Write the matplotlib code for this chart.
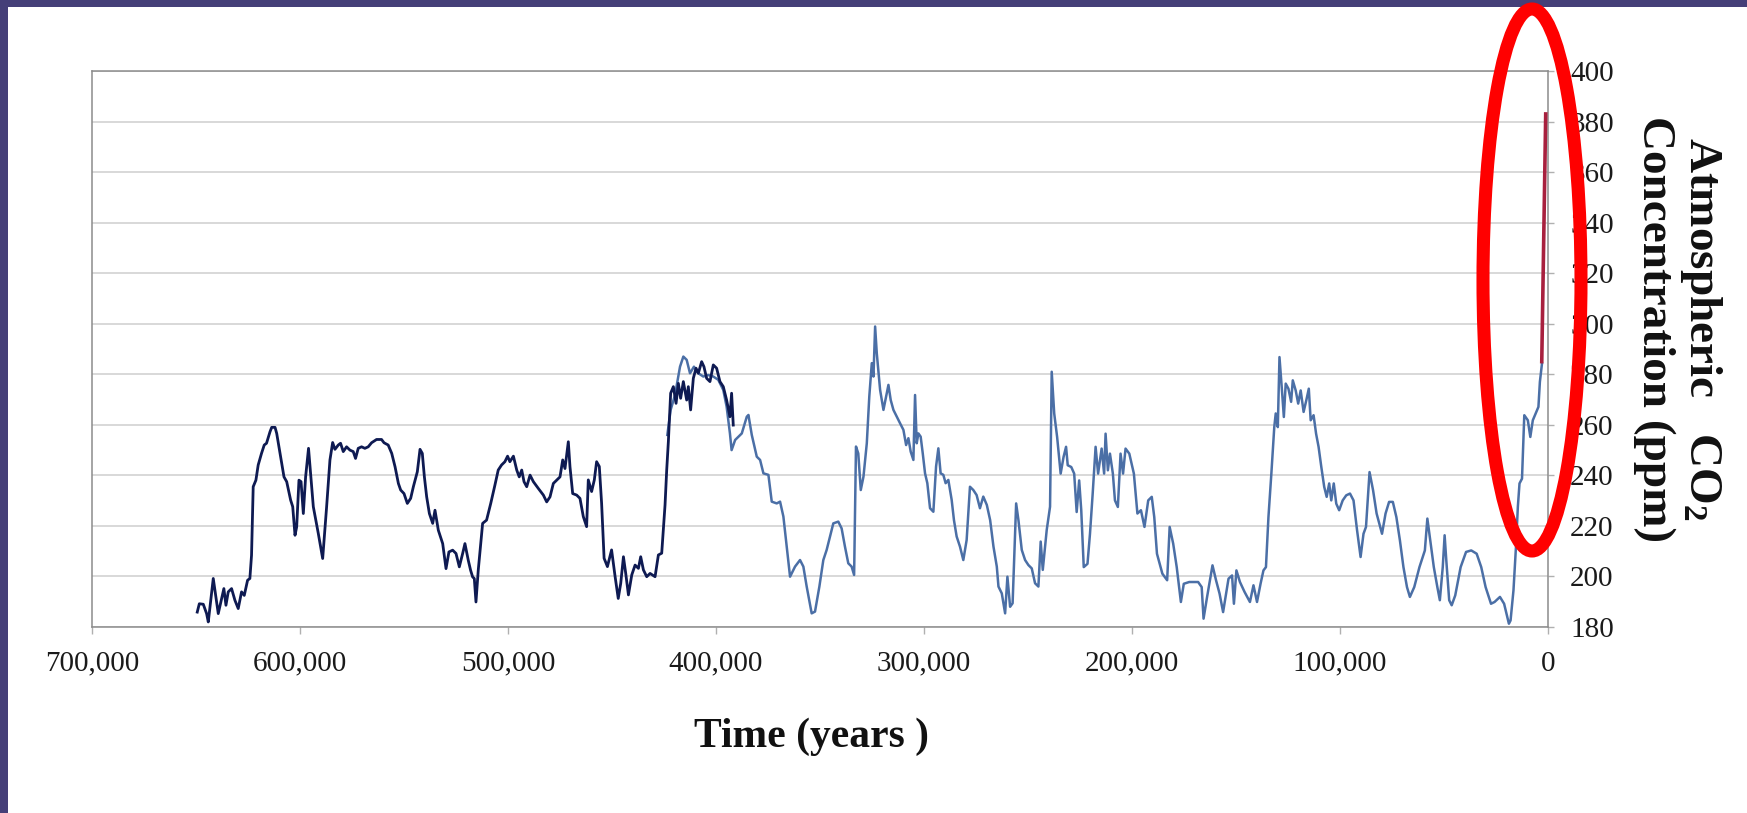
import numpy as np
import matplotlib
matplotlib.use('Agg')
import matplotlib.pyplot as plt
from matplotlib.patches import Ellipse, Rectangle

# ---------------- data (age in thousands of years before present, CO2 in ppm) -------------
domec_age_kyr = [649.4, 648.4, 646.5, 644.9, 644.1, 641.7, 639.3, 637.7, 636.6, 635.6, 634.5, 632.9,
                 631.3, 629.7, 628.1, 626.8, 625.2, 624.1, 623.3, 622.5, 621.2, 620.1, 618.5, 617.2,
                 616.1, 614.4, 613.6, 612.0, 611.2, 609.6, 607.7, 606.4, 604.5, 603.5, 602.4, 601.6,
                 600.5, 599.5, 598.4, 597.3, 595.9, 594.9, 593.6, 591.2, 589.1, 587.2, 585.6, 584.3,
                 583.2, 581.6, 580.5, 579.2, 577.6, 576.0, 574.4, 573.3, 572.0, 570.4, 568.8, 567.2,
                 565.6, 563.2, 560.8, 559.6, 557.6, 555.9, 554.3, 552.7, 551.6, 550.0, 548.4, 546.8,
                 545.5, 543.6, 542.3, 541.2, 540.2, 539.1, 537.8, 536.2, 535.1, 533.5, 531.4, 529.8,
                 528.4, 526.6, 525.0, 523.4, 521.8, 520.7, 519.1, 518.0, 517.0, 516.2, 515.4, 514.3,
                 512.2, 510.3, 508.3, 506.3, 504.7, 503.1, 501.5, 500.2, 499.1, 497.4, 495.8, 494.6,
                 493.4, 492.3, 491.0, 489.4, 487.8, 485.4, 483.0, 481.4, 479.8, 478.2, 476.6, 475.0,
                 473.7, 472.6, 471.0, 470.2, 468.9, 467.0, 465.4, 463.8, 462.2, 461.4, 459.8, 458.5,
                 457.4, 456.1, 455.0, 453.8, 452.2, 450.2, 448.5, 447.0, 445.8, 444.5, 443.4, 442.1,
                 440.5, 438.9, 437.3, 436.2, 434.9, 433.3, 431.7, 429.3, 427.7, 426.1, 424.5, 423.7,
                 422.9, 421.8, 420.5, 419.2, 418.1, 417.0, 415.7, 414.1, 413.3, 412.2, 410.9, 409.6,
                 408.5, 406.9, 405.8, 404.5, 402.9, 401.3, 399.7, 398.1, 396.5, 394.9, 393.3, 392.5,
                 391.7]
domec_co2 = [185.9, 189.2, 189.0, 185.3, 182.0, 199.2, 185.3, 191.2, 195.2, 188.6, 193.9, 195.2,
             190.6, 187.3, 193.9, 192.5, 198.5, 199.2, 208.4, 235.5, 238.1, 244.1, 248.7, 252.0,
             252.7, 257.3, 259.0, 259.0, 256.6, 248.7, 239.4, 237.5, 230.2, 227.6, 216.3, 219.6,
             238.1, 237.5, 224.9, 239.4, 250.7, 240.8, 227.6, 217.0, 207.1, 227.6, 246.1, 253.0,
             250.3, 252.0, 252.7, 249.4, 251.3, 250.0, 249.4, 246.7, 250.7, 251.3, 250.7, 251.3,
             252.9, 254.2, 254.2, 252.9, 252.0, 248.7, 243.4, 236.8, 234.2, 232.8, 228.9, 230.9,
             235.5, 241.4, 250.3, 248.7, 239.4, 231.5, 224.9, 221.0, 226.2, 218.3, 213.0, 203.1,
             209.7, 210.4, 209.1, 203.8, 209.1, 213.0, 206.4, 202.5, 199.8, 199.2, 189.9, 202.5,
             221.0, 222.3, 228.9, 236.1, 242.1, 244.1, 245.4, 247.6, 245.4, 247.6, 242.1, 239.4,
             242.1, 237.5, 235.5, 240.1, 237.5, 234.8, 232.2, 229.5, 231.5, 236.8, 238.1, 239.4,
             246.1, 242.7, 253.3, 243.4, 232.8, 232.2, 230.9, 223.7, 219.7, 238.2, 233.6, 238.2,
             245.4, 243.5, 229.0, 207.2, 203.9, 210.5, 199.9, 191.3, 197.3, 207.8, 201.2, 192.7,
             200.6, 204.5, 203.2, 207.8, 202.6, 199.9, 201.2, 199.9, 208.5, 209.2, 228.3, 242.1,
             253.4, 272.5, 275.1, 268.5, 276.4, 270.5, 277.1, 269.8, 275.1, 265.9, 278.4, 282.4,
             280.4, 285.0, 283.0, 278.4, 277.1, 283.7, 282.4, 277.1, 275.1, 269.8, 263.2, 272.5,
             259.9]

vostok_age_kyr = [423.4, 421.8, 419.7, 417.3, 415.7, 414.1, 412.5, 410.6, 408.5, 406.1, 403.7, 401.3,
                  398.9, 396.5, 394.9, 393.3, 392.5, 390.8, 387.6, 385.2, 384.4, 382.8, 380.4, 378.8,
                  377.2, 374.8, 373.2, 370.8, 369.2, 367.6, 366.0, 364.4, 362.0, 359.6, 358.0, 356.4,
                  354.0, 352.4, 350.3, 348.4, 346.8, 345.2, 343.6, 341.2, 339.6, 338.0, 336.4, 334.8,
                  333.6, 332.7, 331.6, 330.4, 329.1, 327.5, 326.3, 325.1, 324.3, 323.5, 322.7, 321.9,
                  321.1, 319.5, 318.2, 317.1, 316.0, 314.7, 313.1, 311.5, 309.9, 308.6, 307.5, 306.4,
                  305.1, 304.3, 303.5, 302.7, 301.6, 300.6, 299.5, 298.4, 297.1, 295.5, 294.2, 293.1,
                  292.0, 290.7, 289.6, 288.3, 286.7, 285.6, 284.3, 282.7, 281.1, 279.5, 277.9, 276.3,
                  274.7, 273.1, 271.5, 269.8, 268.2, 266.6, 265.0, 264.2, 262.6, 261.0, 259.9, 258.6,
                  257.4, 255.7, 254.6, 253.0, 251.4, 249.8, 248.2, 246.6, 245.0, 243.9, 242.9, 241.0,
                  239.4, 238.6, 237.4, 236.0, 234.3, 232.9, 231.7, 230.9, 229.2, 227.8, 226.6, 225.4,
                  224.4, 223.2, 221.4, 220.2, 218.9, 217.5, 216.3, 214.6, 213.4, 212.7, 211.6, 210.6,
                  209.2, 208.2, 206.8, 205.5, 204.3, 203.1, 201.3, 199.1, 197.4, 195.7, 194.0, 192.2,
                  190.5, 189.3, 188.0, 185.4, 183.1, 181.9, 180.2, 178.5, 176.5, 175.1, 172.5, 168.2,
                  166.5, 165.6, 163.9, 161.3, 159.6, 157.9, 156.2, 153.6, 151.9, 151.0, 149.8, 148.1,
                  145.9, 143.3, 141.6, 139.9, 138.2, 136.8, 135.6, 134.4, 133.0, 131.6, 130.9, 129.9,
                  129.1, 127.9, 127.0, 126.1, 124.8, 123.5, 122.7, 121.3, 120.1, 118.9, 117.5, 116.2,
                  115.0, 114.1, 112.7, 111.5, 110.3, 109.0, 107.6, 106.4, 105.2, 104.2, 103.0, 101.8,
                  100.4, 98.7, 97.0, 95.2, 93.5, 91.8, 90.1, 88.7, 87.5, 85.8, 84.1, 82.4,
                  79.8, 78.1, 76.4, 74.6, 72.9, 71.2, 69.5, 67.8, 66.4, 64.3, 61.8, 59.2,
                  58.0, 56.6, 54.9, 53.2, 52.0, 50.6, 49.7, 48.9, 47.5, 46.3, 44.6, 42.0,
                  39.4, 36.9, 34.3, 32.1, 30.0, 27.4, 25.7, 23.1, 21.1, 18.8, 18.0, 16.6,
                  15.4, 14.5, 13.7, 12.5, 11.4, 9.7, 8.5, 7.3, 5.9, 4.6, 3.9, 2.9]
vostok_co2 = [256.0, 265.9, 271.8, 283.0, 287.0, 285.7, 280.4, 283.0, 280.4, 279.1, 279.7, 279.1,
              277.8, 273.8, 267.2, 256.6, 250.0, 254.0, 256.6, 263.2, 263.9, 256.0, 247.4, 246.1,
              240.8, 240.2, 229.6, 228.9, 229.6, 223.7, 211.8, 199.9, 203.9, 206.5, 203.9, 196.0,
              185.4, 186.1, 196.0, 206.5, 210.5, 215.8, 221.0, 221.7, 219.0, 211.8, 205.2, 203.9,
              200.6, 251.4, 248.7, 234.2, 239.5, 252.7, 271.2, 284.4, 279.1, 298.9, 288.3, 281.1,
              273.8, 265.9, 271.2, 275.8, 269.8, 265.9, 263.2, 260.6, 258.0, 252.0, 254.7, 249.4,
              246.1, 271.8, 252.7, 256.6, 255.3, 248.7, 240.8, 236.9, 227.0, 225.6, 243.5, 250.7,
              240.8, 240.2, 236.9, 238.2, 230.3, 222.3, 215.8, 211.8, 206.5, 214.4, 235.5, 234.2,
              232.2, 227.0, 231.6, 228.3, 222.3, 211.8, 203.9, 196.0, 193.3, 185.4, 199.9, 188.0,
              189.4, 228.9, 222.3, 210.5, 206.5, 204.5, 203.2, 197.3, 196.0, 213.8, 202.6, 218.4,
              227.6, 281.0, 264.5, 255.2, 240.7, 247.3, 251.3, 244.0, 243.3, 240.7, 225.5, 238.0,
              226.2, 203.7, 205.0, 216.9, 232.8, 251.3, 240.7, 250.6, 240.7, 256.5, 242.0, 248.6,
              240.7, 230.1, 227.5, 248.6, 240.7, 250.6, 248.6, 240.7, 224.9, 226.2, 219.6, 230.1,
              231.5, 223.5, 209.0, 201.1, 198.5, 219.6, 213.0, 203.7, 189.9, 197.1, 197.8, 197.8,
              195.8, 183.3, 191.9, 204.4, 198.5, 193.2, 185.9, 199.1, 200.4, 189.2, 202.4, 197.8,
              193.9, 189.9, 196.5, 189.9, 197.1, 202.4, 203.7, 223.5, 240.7, 259.1, 264.5, 259.1,
              286.8, 273.6, 263.1, 276.3, 274.3, 269.1, 277.6, 273.6, 268.4, 273.6, 265.1, 269.7,
              274.3, 261.8, 263.8, 256.5, 251.3, 243.4, 235.5, 231.5, 236.8, 230.1, 236.8, 228.8,
              226.2, 230.1, 232.1, 232.8, 230.1, 218.3, 207.7, 216.9, 219.6, 241.3, 234.1, 224.9,
              216.9, 224.9, 229.5, 229.5, 223.5, 214.3, 203.7, 195.8, 191.9, 195.8, 203.7, 210.3,
              222.9, 214.3, 203.7, 195.8, 190.6, 203.7, 216.3, 206.4, 190.6, 188.6, 192.5, 203.7,
              209.7, 210.3, 209.0, 203.7, 195.8, 189.2, 189.9, 191.9, 189.2, 181.3, 182.6, 194.5,
              211.7, 227.5, 236.8, 238.7, 263.8, 261.8, 255.2, 261.8, 264.5, 267.1, 277.0, 284.2]

modern_age_kyr = [3.0, 1.1]
modern_co2 = [285.0, 383.0]

x_ticks = [700000, 600000, 500000, 400000, 300000, 200000, 100000, 0]
x_tick_labels = ['700,000', '600,000', '500,000', '400,000', '300,000', '200,000', '100,000', '0']
y_ticks = [180, 200, 220, 240, 260, 280, 300, 320, 340, 360, 380, 400]

# ---------------- style -------------
plt.rcParams['font.family'] = ['Liberation Serif', 'DejaVu Serif']
plt.rcParams['mathtext.fontset'] = 'custom'
plt.rcParams['mathtext.rm'] = 'Liberation Serif:bold'
plt.rcParams['mathtext.it'] = 'Liberation Serif:bold'
plt.rcParams['mathtext.bf'] = 'Liberation Serif:bold'

W, H = 1747, 813
fig = plt.figure(figsize=(W / 100, H / 100), dpi=100)
fig.patch.set_facecolor('white')

ax_left, ax_right, ax_top, ax_bottom = 92, 1548, 71, 627
ax = fig.add_axes([ax_left / W, 1 - ax_bottom / H, (ax_right - ax_left) / W, (ax_bottom - ax_top) / H])

ax.plot(np.array(vostok_age_kyr) * 1000, vostok_co2, color='#4B6FA6', lw=1.8, zorder=3)
ax.plot(np.array(domec_age_kyr) * 1000, domec_co2, color='#0E1A52', lw=2.0, zorder=4)
ax.plot(np.array(modern_age_kyr) * 1000, modern_co2, color='#A8203E', lw=2.6, zorder=5)

ax.set_xlim(700000, 0)
ax.set_ylim(180, 400)
ax.set_xticks(x_ticks)
ax.set_xticklabels(x_tick_labels)
ax.set_yticks(y_ticks)
ax.yaxis.tick_right()
ax.grid(axis='y', color='#D6D6D6', lw=1.3)
ax.grid(axis='x', visible=False)
ax.set_axisbelow(True)
for s in ax.spines.values():
    s.set_color('#8C8C8C')
    s.set_linewidth(1.1)

ax.tick_params(axis='x', length=5, width=1, color='#B0B0B0', labelsize=21, labelcolor='#1A1A1A', pad=12)
ax.tick_params(axis='y', length=4, width=1, color='#B0B0B0', labelsize=21, labelcolor='#1A1A1A', pad=12)

# axis titles
fig.text(811 / W, 1 - 737 / H, 'Time (years )', ha='center', va='center',
         fontsize=30, fontweight='bold', color='#111111')
fig.text(1701 / W, 1 - 329 / H, 'Atmospheric   CO$_2$', ha='center', va='center', rotation=270,
         fontsize=34, fontweight='bold', color='#111111')
fig.text(1654 / W, 1 - 329 / H, 'Concentration (ppm)', ha='center', va='center', rotation=270,
         fontsize=34, fontweight='bold', color='#111111')

# slide frame (top and left bands)
fig.add_artist(Rectangle((0, 1 - 7 / H), 1, 7 / H, transform=fig.transFigure,
                         facecolor='#453F78', edgecolor='none', zorder=10))
fig.add_artist(Rectangle((0, 0), 8 / W, 1, transform=fig.transFigure,
                         facecolor='#453F78', edgecolor='none', zorder=10))

# red highlight ellipse
fig.add_artist(Ellipse((1532 / W, 1 - 280 / H), 98 / W, 542 / H, transform=fig.transFigure,
                       fill=False, edgecolor='#FF0000', lw=9.4, zorder=20))

fig.savefig('out.png', dpi=100, facecolor='white')
